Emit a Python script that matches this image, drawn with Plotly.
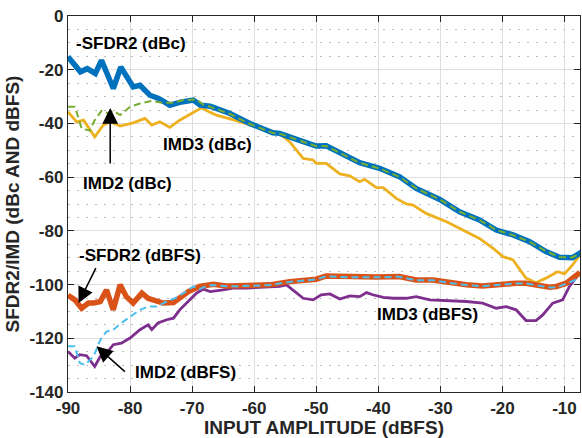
import plotly.graph_objects as go

# -SFDR2 (dBc)
sfdr2_dbc_x = [-90, -88, -86.9, -85.6, -84.6, -82.7, -81.5, -79.5, -78.4, -76.8, -75.4, -73.6, -71.7, -69.8, -68.7, -67.1, -63.9, -60.7, -57, -55.9, -52.1, -50, -48.4, -45.1, -43, -39.8, -36.6, -33.9, -30.1, -26.9, -23.7, -21, -18.3, -15.6, -13, -10.8, -8.7, -7.3]
sfdr2_dbc_y = [-15.2, -20.8, -19.6, -21.4, -16.5, -27, -19, -26.4, -25.8, -29.5, -30.7, -33.2, -32, -31.3, -33.2, -33.6, -36.3, -40, -43.5, -43.7, -46.8, -48.4, -48.3, -52.4, -54.6, -56.7, -59.8, -64.2, -68.3, -72.9, -75.9, -79.7, -81.5, -84, -87.7, -89.8, -90, -88]

# IMD2 (dBc)
imd2_dbc_x = [-90, -88.9, -88.3, -87.8, -86.5, -85.7, -84.6, -83.6, -82.7, -81.6, -80, -78.4, -76.5, -74.9, -73, -71.4, -69.3, -68.2, -67.1, -63.9, -60.7, -57, -55.9, -52.1, -50, -48.4, -45.1, -43, -39.8, -36.6, -33.9, -30.1, -26.9, -23.7, -21, -18.3, -15.6, -13, -10.8, -8.7, -7.3]
imd2_dbc_y = [-33.8, -33.8, -38, -41.9, -42.7, -38.8, -35.3, -36.2, -35.3, -36.9, -33.8, -32.6, -31.6, -32.3, -32.3, -31.3, -31.1, -33, -33.8, -36.5, -40.2, -43.6, -43.8, -46.9, -48.5, -48.4, -52.4, -54.7, -56.8, -59.9, -64.2, -68.3, -72.9, -76, -79.7, -81.6, -84.1, -87.6, -89.7, -89.9, -88]

# IMD3 (dBc)
imd3_dbc_x = [-90, -88.6, -87.5, -85.7, -84.3, -83.2, -81.6, -79.5, -77.6, -76.5, -75.2, -73.6, -72, -70.4, -68.5, -67.2, -66.1, -63.9, -60.7, -58, -55.9, -54.3, -52.1, -50.5, -50, -48.4, -46.2, -44.6, -43, -42.2, -40.3, -39.2, -37.1, -35.5, -34.4, -32.3, -29, -26.4, -23.7, -21.5, -19.9, -18.3, -16.2, -14.6, -13, -11.1, -10, -8.7, -7.3]
imd3_dbc_y = [-35.7, -39.4, -38.8, -45, -40.6, -39.4, -41, -39.8, -38.1, -40.6, -39.4, -41.5, -38.8, -36.6, -34.2, -35.7, -36.9, -38.3, -40.6, -42.3, -43.7, -46.8, -53, -53.6, -54.9, -54.9, -58.8, -59.5, -61.7, -60.8, -63.9, -63.9, -67.9, -70, -70.4, -73.5, -76.6, -79.7, -82.8, -86.5, -89.6, -90.8, -97.6, -99.3, -97.6, -95.2, -96, -92.7, -88.3]

# -SFDR2 (dBFS)
sfdr2_dbfs_x = [-90, -88.9, -87.8, -86.7, -85.9, -84.8, -83.8, -82.7, -81.6, -80.6, -79.5, -78.1, -77.1, -76, -74.7, -73, -72, -70.6, -68.8, -66.6, -64.5, -62.3, -59.6, -57.5, -54.3, -50, -48.4, -44.6, -40.3, -36.6, -33.9, -31.2, -28.5, -25.8, -23.2, -20.5, -17.8, -16.2, -14, -12.4, -11.3, -9.7, -7.5]
sfdr2_dbfs_y = [-104, -105.7, -108.8, -106.9, -106.9, -106.3, -102, -109.4, -100.1, -104.5, -106.9, -103.2, -105.1, -105.7, -106.9, -106.7, -105.1, -102.6, -100.7, -99.9, -100.5, -100.5, -100.5, -100.1, -98.9, -98, -96.8, -97.2, -97.2, -97, -98.3, -98.3, -99.3, -100.1, -100.5, -99.9, -99.5, -99.5, -100.5, -101, -100.7, -99.5, -95.5]

# IMD2 (dBFS)
imd2_dbfs_x = [-90, -88.9, -88.1, -87.3, -85.9, -84.8, -83.8, -82.7, -81.1, -80, -78.4, -77.1, -75.7, -74.1, -72.8, -71.4, -69.8, -68.8, -67.7, -66.6, -64.5, -62.3, -59.6, -57.5, -54.3, -50, -48.4, -44.6, -40.3, -36.6, -33.9, -31.2, -28.5, -25.8, -23.2, -20.5, -17.8, -16.2, -14, -12.4, -11.1, -9.7, -7.5]
imd2_dbfs_y = [-123, -123, -129.2, -129.9, -126.8, -120.6, -117.5, -116.8, -113.8, -111.9, -109.4, -108.2, -108.2, -106.3, -105.1, -103.2, -100.7, -101.7, -100.5, -100.2, -100.6, -100.6, -100.5, -100.2, -99, -98.1, -96.9, -97.3, -97.3, -97.1, -98.4, -98.4, -99.4, -100.2, -100.6, -100, -99.6, -99.6, -100.6, -101.1, -100.9, -99.6, -97.6]

# IMD3 (dBFS)
imd3_dbfs_x = [-90, -88.9, -88.1, -87, -85.7, -84.8, -83.8, -82.7, -81.4, -80, -78.4, -77.1, -76.5, -75.5, -74.1, -73, -72, -70.6, -69.3, -68.2, -67.1, -65, -63.4, -61.2, -59.1, -55.9, -54.8, -53.7, -52.1, -50.5, -49.2, -47.8, -46.2, -44.6, -43, -41.9, -40.9, -39.2, -37.6, -35.5, -33.9, -31.7, -28.5, -25.8, -23.2, -21, -19.4, -17.8, -16.2, -14.6, -13.5, -11.9, -10.3, -9.2, -7.5]
imd3_dbfs_y = [-124.9, -127.4, -126.1, -126.5, -130.5, -126.8, -125.5, -122.4, -121.8, -119.9, -116.8, -115, -116.8, -114.3, -113.1, -112.5, -109.4, -106.3, -103.2, -101.7, -102.6, -102, -101.3, -101.3, -101, -100.7, -100.1, -102, -105.1, -105.7, -103.8, -103.5, -105.4, -104.2, -104.5, -103, -103.8, -104.8, -105.1, -105.1, -104.5, -105.7, -105.9, -106.3, -106.9, -108.8, -108.2, -109.4, -113.4, -113.4, -111.3, -106.9, -105.7, -100.7, -95.5]

x_ticks = [-90, -80, -70, -60, -50, -40, -30, -20, -10]
y_ticks = [0, -20, -40, -60, -80, -100, -120, -140]

# label text, x, y
labels = [
    ("-SFDR2 (dBc)", -79.8, -10.1),
    ("IMD3 (dBc)", -67.5, -47.7),
    ("IMD2 (dBc)", -80.4, -62.2),
    ("-SFDR2 (dBFS)", -78.4, -89.0),
    ("IMD2 (dBFS)", -71.0, -132.8),
    ("IMD3 (dBFS)", -32.1, -111.3),
]
# arrows: tip x, tip y, tail x, tail y
arrows = [
    (-83.2, -34.3, -83.2, -55.5),
    (-88.3, -106.9, -85.4, -93.3),
    (-85.4, -123.0, -80.6, -132.9),
]

FONT = "Arial, Liberation Sans, sans-serif"

fig = go.Figure()

def add(x, y, color, width, dash="solid"):
    fig.add_trace(go.Scatter(x=x, y=y, mode="lines",
                             line=dict(color=color, width=width, dash=dash),
                             showlegend=False, hoverinfo="skip"))

add(imd3_dbc_x, imd3_dbc_y, "#EDB120", 2.8)
add(imd3_dbfs_x, imd3_dbfs_y, "#7E2F8E", 2.8)
add(sfdr2_dbc_x, sfdr2_dbc_y, "#0072BD", 5.5)
add(imd2_dbc_x, imd2_dbc_y, "#77AC30", 2, "7px,4px")
add(sfdr2_dbfs_x, sfdr2_dbfs_y, "#D95319", 5.5)
add(imd2_dbfs_x, imd2_dbfs_y, "#4DBEEE", 2, "7px,4px")

for text, x, y in labels:
    fig.add_annotation(x=x, y=y, xref="x", yref="y", text=text, showarrow=False,
                       font=dict(family=FONT, size=17, color="#000000", weight="bold"))
for tx, ty, sx, sy in arrows:
    fig.add_annotation(x=tx, y=ty, ax=sx, ay=sy, xref="x", yref="y", axref="x", ayref="y",
                       text="", showarrow=True, arrowhead=2, arrowsize=2.1, arrowwidth=1.5,
                       arrowcolor="#000000")

axis_common = dict(
    showline=True, linecolor="#262626", linewidth=1.3, mirror="ticks",
    ticks="inside", ticklen=6, tickcolor="#262626", tickwidth=1.3,
    showgrid=True, gridcolor="#dedede", gridwidth=1, zeroline=False,
    tickfont=dict(family=FONT, size=17, color="#262626", weight="bold"),
)

fig.update_xaxes(range=[-90, -7.5], tickvals=x_ticks, ticktext=[str(v) for v in x_ticks],
                 title=dict(text="INPUT AMPLITUDE (dBFS)", standoff=2,
                            font=dict(family=FONT, size=19, color="#262626", weight="bold")),
                 **axis_common)
fig.update_yaxes(range=[-140, 0], tickvals=y_ticks, ticktext=[str(v) for v in y_ticks],
                 title=dict(text="SFDR2/IMD (dBc AND dBFS)", standoff=4,
                            font=dict(family=FONT, size=19, color="#262626", weight="bold")),
                 minor=dict(dtick=5, tick0=0, showgrid=True, gridcolor="#bdbdbd",
                            griddash="2px,7px", gridwidth=1, ticks=""),
                 **axis_common)

fig.update_layout(width=582, height=438, margin=dict(l=68, r=2, t=16, b=46),
                  plot_bgcolor="#ffffff", paper_bgcolor="#ffffff")

fig.write_html("out.html")
